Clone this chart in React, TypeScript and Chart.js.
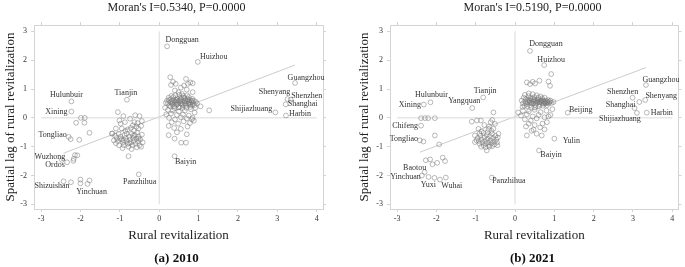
import React, { useEffect, useRef } from 'react';
import { Chart, registerables } from 'chart.js';

Chart.register(...registerables);

// ---------------- data ----------------
const X_TICKS = [-3, -2, -1, 0, 1, 2, 3, 4];
const Y_TICKS = [-3, -2, -1, 0, 1, 2, 3];
const X_TITLE = 'Rural revitalization';
const Y_TITLE = 'Spatial lag of rural revitalization';

const TITLE_2010 = "Moran's I=0.5340, P=0.0000";
const CAPTION_2010 = '(a) 2010';
const REG_X_2010 = [-2.43, 3.45];
const REG_SLOPE_2010 = 0.52;
const REG_INTERCEPT_2010 = 0.038;

const TITLE_2021 = "Moran's I=0.5190, P=0.0000";
const CAPTION_2021 = '(b) 2021';
const REG_X_2021 = [-2.42, 3.33];
const REG_SLOPE_2021 = 0.51;
const REG_INTERCEPT_2021 = 0.044;

const LABEL_NAMES_2010 = ['Dongguan', 'Huizhou', 'Guangzhou', 'Shenyang', 'Shenzhen', 'Shanghai', 'Harbin', 'Shijiazhuang', 'Hulunbuir', 'Xining', 'Tianjin', 'Tongliao', 'Wuzhong', 'Ordos', 'Shizuishan', 'Yinchuan', 'Panzhihua', 'Baiyin'];
const LABEL_POINTS_2010: number[][] = [[0.20, 2.48], [0.98, 1.94], [3.45, 1.21], [3.26, 0.65], [3.34, 0.63], [3.21, 0.47], [3.22, 0.08], [2.95, 0.19], [-2.23, 0.57], [-2.23, 0.22], [-0.82, 0.63], [-2.30, -0.66], [-2.47, -1.46], [-2.34, -1.54], [-2.24, -2.23], [-1.82, -2.29], [-0.52, -1.96], [0.39, -1.33]];

const CITIES_2010: number[][] = [
  // low-low group
  [-1.05, 0.20], [-0.91, 0.06], [-0.74, -0.03], [-0.61, 0.09], [-0.50, 0.06], [-0.44, -0.11], [-1.01, -0.09], [-1.10, -0.37], [-0.95, -0.37], [-1.20, -0.55], [-0.67, -0.26], [-0.53, -0.37], [-0.46, -0.28], [-0.78, -1.33], [-1.19, -0.54], [-1.03, -0.55],
  [-1.12, -0.62], [-1.08, -0.70], [-1.05, -0.80], [-1.10, -0.88], [-1.02, -0.95], [-0.98, -0.65], [-0.95, -0.75], [-0.92, -0.85], [-0.90, -0.95], [-0.88, -0.60], [-0.85, -0.70], [-0.83, -0.80], [-0.80, -0.90], [-0.78, -1.00], [-0.76, -0.65], [-0.74, -0.75], [-0.72, -0.85], [-0.70, -0.55], [-0.68, -0.95], [-0.66, -0.70], [-0.64, -0.80], [-0.62, -0.60], [-0.60, -0.90], [-0.58, -0.72], [-0.56, -0.50], [-0.54, -0.82], [-0.52, -0.65], [-0.50, -0.95], [-0.48, -0.75], [-0.46, -1.00], [-0.44, -0.58], [-0.42, -0.85], [-0.86, -0.45], [-0.80, -0.40], [-0.72, -0.35], [-0.64, -0.45], [-0.58, -0.30], [-0.98, -0.20], [-0.87, -0.15], [-0.63, -0.15], [-0.55, -0.18], [-1.15, -0.78], [-0.93, -1.05], [-0.70, -1.08], [-0.57, -1.02], [-0.83, -0.55], [-0.76, -0.88], [-0.66, -0.62], [-0.52, -0.72], [-1.00, -0.72], [-0.90, -0.78],
  // high-high group
  [0.28, 1.41], [0.30, 1.14], [0.42, 1.18], [0.68, 1.35], [0.63, 1.12], [0.73, 1.18], [0.79, 1.23], [0.85, 1.20], [0.85, 0.89], [0.58, 0.83], [0.49, 0.89], [0.35, 1.25], [0.55, 1.05], [0.40, 0.95], [0.70, 0.98],
  [0.20, 0.60], [0.22, 0.50], [0.24, 0.70], [0.26, 0.42], [0.28, 0.55], [0.30, 0.65], [0.32, 0.48], [0.34, 0.58], [0.36, 0.72], [0.38, 0.40], [0.40, 0.52], [0.42, 0.62], [0.44, 0.45], [0.46, 0.68], [0.48, 0.55], [0.50, 0.60], [0.52, 0.38], [0.54, 0.50], [0.56, 0.64], [0.58, 0.56], [0.60, 0.45], [0.62, 0.70], [0.64, 0.52], [0.66, 0.60], [0.68, 0.42], [0.70, 0.58], [0.72, 0.66], [0.74, 0.50], [0.76, 0.55], [0.78, 0.62], [0.80, 0.46], [0.82, 0.56], [0.84, 0.66], [0.86, 0.52], [0.88, 0.60], [0.90, 0.44], [0.93, 0.55], [0.25, 0.62], [0.33, 0.52], [0.37, 0.60], [0.43, 0.56], [0.47, 0.48], [0.53, 0.58], [0.57, 0.48], [0.63, 0.58], [0.67, 0.50], [0.73, 0.60], [0.77, 0.48], [0.83, 0.60], [0.45, 0.62], [0.35, 0.45], [0.55, 0.70], [0.65, 0.68], [0.75, 0.72], [0.85, 0.45], [0.41, 0.78], [0.51, 0.80], [0.61, 0.76], [0.71, 0.78], [0.31, 0.76], [0.29, 0.40], [0.39, 0.34], [0.49, 0.36], [0.59, 0.34], [0.69, 0.35], [0.79, 0.38], [0.17, 0.52], [0.96, 0.50],
  // high-low group
  [0.15, 0.35], [0.22, 0.28], [0.35, 0.25], [0.50, 0.22], [0.65, 0.25], [0.80, 0.30], [0.92, 0.35], [0.18, 0.12], [0.30, 0.15], [0.45, 0.10], [0.60, 0.12], [0.75, 0.08], [0.90, 0.18], [0.25, 0.00], [0.40, -0.05], [0.55, 0.02], [0.70, -0.02], [0.85, 0.00], [0.24, -0.28], [0.32, -0.15], [0.48, -0.20], [0.62, -0.12], [0.78, -0.18], [0.88, -0.10], [0.38, -0.35], [0.55, -0.38], [0.72, -0.30], [0.24, -0.60], [0.39, -0.72], [0.56, -0.86], [0.68, -0.86], [0.70, -0.57], [0.45, -0.50], [0.83, -0.05], [1.27, 0.26], [1.05, 0.40],
  // western outliers
  [-2.11, -0.17], [-1.99, 0.00], [-1.90, -0.17], [-1.89, 0.00], [-2.25, -0.74], [-2.03, -0.76], [-1.77, -0.52], [-2.18, -1.49], [-2.14, -1.29], [-2.08, -1.30], [-2.17, -1.42], [-2.43, -2.20], [-2.00, -2.14], [-2.00, -2.27], [-1.77, -2.17],
];

const LABEL_NAMES_2021 = ['Dongguan', 'Huizhou', 'Guangzhou', 'Shenzhen', 'Shenyang', 'Shanghai', 'Harbin', 'Shijiazhuang', 'Beijing', 'Hulunbuir', 'Xining', 'Tianjin', 'Yangquan', 'Chifeng', 'Tongliao', 'Baotou', 'Yinchuan', 'Yuxi', 'Wuhai', 'Panzhihua', 'Yulin', 'Baiyin'];
const LABEL_POINTS_2021: number[][] = [[0.38, 2.32], [0.74, 1.83], [3.33, 1.14], [2.99, 0.70], [3.31, 0.62], [3.04, 0.34], [3.35, 0.18], [3.10, 0.17], [1.34, 0.18], [-2.15, 0.54], [-2.32, 0.46], [-0.81, 0.71], [-1.09, 0.34], [-2.39, -0.27], [-2.42, -0.78], [-2.30, -1.88], [-2.20, -2.05], [-2.05, -2.08], [-1.76, -2.07], [-0.59, -2.07], [1.00, -0.72], [0.61, -1.13]];

const CITIES_2021: number[][] = [
  // low-low group
  [-1.10, -0.13], [-0.97, -0.09], [-0.87, -0.09], [-0.58, -0.07], [-0.51, -0.21], [-0.55, -0.38], [-0.93, -0.38], [-0.85, -0.47], [-1.02, -0.61], [-1.02, -0.84], [-0.72, -1.13], [-0.55, 0.19], [-0.78, -0.25], [-0.66, -0.30], [-0.62, -0.15],
  [-0.95, -0.70], [-0.92, -0.80], [-0.90, -0.90], [-0.88, -0.62], [-0.85, -0.75], [-0.83, -0.85], [-0.80, -0.95], [-0.78, -0.68], [-0.76, -0.80], [-0.74, -0.90], [-0.72, -0.60], [-0.70, -0.72], [-0.68, -0.85], [-0.66, -0.95], [-0.64, -0.65], [-0.62, -0.78], [-0.60, -0.88], [-0.58, -0.55], [-0.56, -0.70], [-0.54, -0.82], [-0.52, -0.92], [-0.50, -0.62], [-0.48, -0.75], [-0.46, -0.85], [-0.44, -0.68], [-0.60, -0.45], [-0.70, -0.50], [-0.80, -0.52], [-0.65, -1.00], [-0.75, -1.02], [-0.86, -1.00], [-0.98, -0.78], [-0.58, -0.98], [-0.45, -0.95], [-0.42, -0.55], [-0.67, -0.40], [-0.90, -0.55],
  // high-high group
  [0.30, 1.23], [0.38, 1.17], [0.51, 1.19], [0.62, 1.29], [0.92, 1.52], [0.85, 1.26], [0.89, 1.11], [0.45, 1.25],
  [0.17, 0.60], [0.20, 0.50], [0.22, 0.70], [0.24, 0.42], [0.26, 0.58], [0.28, 0.66], [0.30, 0.48], [0.32, 0.55], [0.34, 0.75], [0.36, 0.62], [0.38, 0.44], [0.40, 0.52], [0.42, 0.60], [0.44, 0.68], [0.46, 0.50], [0.48, 0.56], [0.50, 0.62], [0.52, 0.45], [0.54, 0.58], [0.56, 0.52], [0.58, 0.64], [0.60, 0.55], [0.62, 0.48], [0.64, 0.60], [0.66, 0.56], [0.68, 0.52], [0.70, 0.62], [0.72, 0.58], [0.74, 0.50], [0.76, 0.55], [0.78, 0.60], [0.80, 0.52], [0.82, 0.57], [0.84, 0.62], [0.86, 0.50], [0.88, 0.56], [0.90, 0.60], [0.93, 0.52], [0.27, 0.52], [0.33, 0.62], [0.37, 0.55], [0.43, 0.50], [0.47, 0.62], [0.53, 0.52], [0.57, 0.58], [0.63, 0.54], [0.67, 0.60], [0.73, 0.55], [0.77, 0.50], [0.83, 0.54], [0.25, 0.80], [0.35, 0.85], [0.45, 0.82], [0.55, 0.78], [0.65, 0.74], [0.75, 0.70], [0.31, 0.40], [0.41, 0.38], [0.51, 0.36], [0.61, 0.40], [0.71, 0.42], [0.81, 0.44], [0.39, 0.68], [0.59, 0.70], [0.69, 0.68], [0.49, 0.72], [0.98, 0.55], [0.19, 0.38],
  // high-low group
  [0.08, 0.19], [0.20, 0.25], [0.35, 0.22], [0.50, 0.28], [0.65, 0.20], [0.80, 0.25], [0.95, 0.30], [0.15, 0.08], [0.30, 0.12], [0.45, 0.05], [0.60, 0.10], [0.75, 0.02], [0.90, 0.10], [0.25, -0.05], [0.40, -0.10], [0.55, -0.02], [0.70, -0.20], [0.81, -0.15], [0.85, 0.05], [0.30, -0.61], [0.47, -0.41], [0.55, -0.55], [0.68, -0.61], [0.64, -0.33], [0.35, -0.20], [0.50, -0.25], [0.42, -0.45], [0.75, -0.40], [0.28, -0.30],
  // outliers
  [-2.39, -0.01], [-2.29, -0.01], [-2.21, -0.01], [-2.04, -0.01], [-2.33, -0.82], [-2.04, -0.61], [-1.93, -0.92], [-2.27, -1.47], [-2.16, -1.44], [-2.10, -1.61], [-1.98, -1.56], [-1.84, -1.38], [-1.78, -1.50], [-2.37, -2.00], [-1.91, -2.14], [3.16, 0.55],
];

// ---------------- style / layout ----------------
const SERIF = "'Liberation Serif', 'Times New Roman', serif";
const FRAME = '#d4d4d4';
const POINT_COLOR = 'rgba(120,120,120,0.75)';
const TEXT = '#222';
const LABEL_OFFSETS_2010 = [[15, -6], [16, -5], [11, -5], [-13, -7], [16, -4], [17, 0], [14, -2], [-24, -3], [-5, -7], [-15, 0], [-1, -7], [-16, -2], [-12, -3], [-12, 3], [-19, 4], [4, 8], [1, 8], [11, 6]];
const LABEL_OFFSETS_2021 = [[16, -7], [7, -5], [15, -5], [-10, -6], [16, -4], [-14, -3], [15, 0], [-17, 6], [13, -3], [1, -7], [-14, 0], [2, -6], [-8, -7], [-16, 0], [-16, -1], [-10, -4], [-23, 0], [-6, 7], [6, 8], [17, 3], [17, 2], [12, 4]];

const pointLabelsPlugin = {
  id: 'pointLabels',
  afterDatasetsDraw(chart: any, _args: any, opts: any) {
    if (!opts || !opts.names) return;
    const { ctx } = chart;
    const xs = chart.scales.x;
    const ys = chart.scales.y;
    ctx.save();
    ctx.font = `8px ${SERIF}`;
    ctx.fillStyle = '#333';
    ctx.textAlign = 'center';
    ctx.textBaseline = 'middle';
    opts.names.forEach((name: string, i: number) => {
      const [vx, vy] = opts.points[i];
      const [dx, dy] = opts.offsets[i];
      ctx.fillText(name, xs.getPixelForValue(vx) + dx, ys.getPixelForValue(vy) + dy);
    });
    ctx.restore();
  },
};

const ticksFrom = (vals: number[]) => (s: any) => {
  s.ticks = vals.map((v) => ({ value: v }));
};

function buildConfig(p: any) {
  const lineDs = (data: any[], color: string) => ({
    type: 'scatter',
    showLine: true,
    data,
    borderColor: color,
    borderWidth: 1,
    pointRadius: 0,
    order: 5,
  });
  const regData = p.regX.map((x: number) => ({ x, y: p.slope * x + p.intercept }));
  const allPts = [...p.cities, ...p.labelPoints].map(([x, y]: number[]) => ({ x, y }));
  const gridOpt = { drawOnChartArea: false, drawTicks: true, tickLength: 3, color: FRAME, lineWidth: 1 };
  const xRange = { min: -3.18, max: 4.16 };
  const yRange = { min: -3.16, max: 3.22 };
  return {
    type: 'scatter',
    data: {
      datasets: [
        lineDs([{ x: X_TICKS[0], y: 0 }, { x: X_TICKS[X_TICKS.length - 1], y: 0 }], '#dadada'),
        lineDs([{ x: 0, y: Y_TICKS[0] }, { x: 0, y: Y_TICKS[Y_TICKS.length - 1] }], '#dadada'),
        lineDs(regData, '#cccccc'),
        {
          type: 'scatter',
          data: allPts,
          pointRadius: 2.4,
          pointBorderWidth: 0.7,
          borderColor: POINT_COLOR,
          backgroundColor: 'rgba(0,0,0,0)',
          order: 1,
        },
      ],
    },
    options: {
      responsive: false,
      animation: false,
      events: [],
      layout: { padding: { left: p.padLeft, right: p.padRight, top: 22, bottom: 23 } },
      plugins: {
        legend: { display: false },
        tooltip: { enabled: false },
        title: { display: false },
        pointLabels: { names: p.labelNames, points: p.labelPoints, offsets: p.labelOffsets },
      },
      scales: {
        x: {
          type: 'linear',
          position: 'bottom',
          ...xRange,
          afterBuildTicks: ticksFrom(X_TICKS),
          afterFit: (s: any) => { s.height = 35; },
          grid: gridOpt,
          border: { display: true, color: FRAME },
          ticks: { font: { family: SERIF, size: 8 }, color: '#333', padding: 2, maxRotation: 0, autoSkip: false },
          title: { display: true, text: X_TITLE, font: { family: SERIF, size: 13 }, color: TEXT, padding: { top: 0, bottom: 1 } },
        },
        x2: {
          type: 'linear',
          axis: 'x',
          position: 'top',
          ...xRange,
          afterBuildTicks: ticksFrom(X_TICKS),
          afterFit: (s: any) => { s.height = 3; },
          grid: gridOpt,
          border: { display: true, color: FRAME },
          ticks: { display: false },
        },
        y: {
          type: 'linear',
          position: 'left',
          ...yRange,
          afterBuildTicks: ticksFrom(Y_TICKS),
          afterFit: (s: any) => { s.width = p.yWidth; },
          grid: gridOpt,
          border: { display: true, color: FRAME },
          ticks: { font: { family: SERIF, size: 8 }, color: '#333', padding: 4 },
          title: { display: true, text: Y_TITLE, font: { family: SERIF, size: 13 }, color: TEXT, padding: { top: 3, bottom: 0 } },
        },
        y2: {
          type: 'linear',
          axis: 'y',
          position: 'right',
          ...yRange,
          afterBuildTicks: ticksFrom(Y_TICKS),
          afterFit: (s: any) => { s.width = 3; },
          grid: gridOpt,
          border: { display: true, color: FRAME },
          ticks: { display: false },
        },
      },
    },
    plugins: [pointLabelsPlugin],
  };
}

function Panel(p: any) {
  const ref = useRef<HTMLCanvasElement>(null);
  useEffect(() => {
    if (!ref.current) return;
    const chart = new Chart(ref.current, buildConfig(p) as any);
    return () => chart.destroy();
  }, []);
  return (
    <>
      <canvas
        ref={ref}
        width={p.width}
        height={267}
        style={{ position: 'absolute', left: p.left, top: 0, width: p.width, height: 267 }}
      />
      <div style={{ position: 'absolute', left: p.titleCenter - 120, width: 240, top: 0, lineHeight: '14px', textAlign: 'center', fontFamily: SERIF, fontSize: 12, color: TEXT, whiteSpace: 'nowrap' }}>
        {p.title}
      </div>
      <div style={{ position: 'absolute', left: p.titleCenter - 60, width: 120, top: 250, lineHeight: '15px', textAlign: 'center', fontFamily: SERIF, fontSize: 13, fontWeight: 'bold', color: '#111', whiteSpace: 'nowrap' }}>
        {p.caption}
      </div>
    </>
  );
}

export default function App() {
  return (
    <div style={{ position: 'absolute', left: 0, top: 0, width: 685, height: 267, background: '#fff', overflow: 'hidden' }}>
      <Panel
        left={0}
        width={342}
        padLeft={0}
        padRight={16}
        yWidth={34}
        titleCenter={176.5}
        title={TITLE_2010}
        caption={CAPTION_2010}
        cities={CITIES_2010}
        labelNames={LABEL_NAMES_2010}
        labelPoints={LABEL_POINTS_2010}
        labelOffsets={LABEL_OFFSETS_2010}
        regX={REG_X_2010}
        slope={REG_SLOPE_2010}
        intercept={REG_INTERCEPT_2010}
      />
      <Panel
        left={354}
        width={331}
        padLeft={0}
        padRight={3.4}
        yWidth={36}
        titleCenter={532.5}
        title={TITLE_2021}
        caption={CAPTION_2021}
        cities={CITIES_2021}
        labelNames={LABEL_NAMES_2021}
        labelPoints={LABEL_POINTS_2021}
        labelOffsets={LABEL_OFFSETS_2021}
        regX={REG_X_2021}
        slope={REG_SLOPE_2021}
        intercept={REG_INTERCEPT_2021}
      />
    </div>
  );
}
